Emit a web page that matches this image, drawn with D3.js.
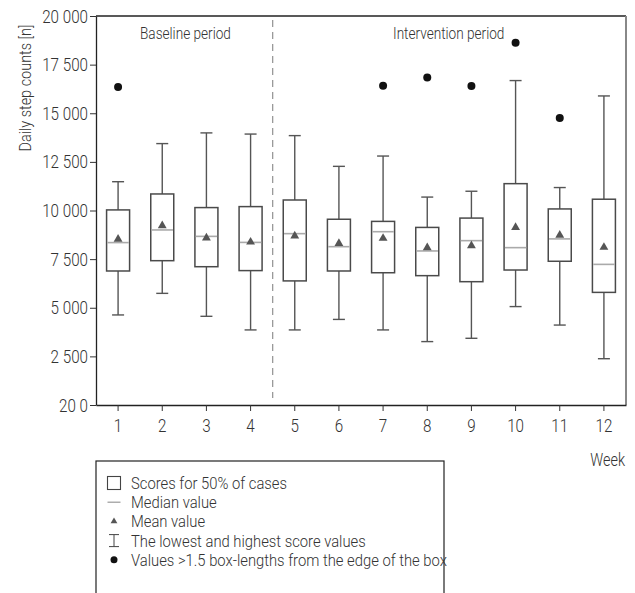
<!DOCTYPE html>
<html>
<head>
<meta charset="utf-8">
<script src="https://cdn.jsdelivr.net/npm/d3@7"></script>
<style>
  html, body { margin: 0; padding: 0; background: #fff; }
  svg { display: block; }
  text { font-family: Roboto, "Noto Sans", sans-serif; font-weight: 300; fill: #333; }
</style>
</head>
<body>
<svg id="chart" width="635" height="593"></svg>
<script>
// ---- data ----
const weeks = ["1","2","3","4","5","6","7","8","9","10","11","12"];
const whiskerLow  = [4630, 5740, 4560, 3860, 3860, 4400, 3860, 3260, 3430, 5060, 4110, 2380];
const q1          = [6890, 7420, 7110, 6910, 6380, 6890, 6800, 6650, 6340, 6940, 7390, 5790];
const medians     = [8350, 9000, 8670, 8360, 8810, 8140, 8910, 7920, 8450, 8090, 8540, 7230];
const means       = [8530, 9220, 8590, 8380, 8690, 8310, 8570, 8090, 8190, 9130, 8730, 8110];
const q3          = [10030, 10850, 10150, 10200, 10540, 9550, 9440, 9130, 9610, 11380, 10080, 10580];
const whiskerHigh = [11480, 13440, 13990, 13930, 13850, 12270, 12800, 10690, 10990, 16680, 11180, 15890];
const outlierWeeks  = ["1", "7", "8", "9", "10", "11"];
const outlierValues = [16350, 16420, 16840, 16400, 18630, 14760];
const yTickValues = [0, 2500, 5000, 7500, 10000, 12500, 15000, 17500, 20000];
const yTickLabels = ["20 0", "2 500", "5 000", "7 500", "10 000", "12 500", "15 000", "17 500", "20 000"];
const legendItems = [
  "Scores for 50% of cases",
  "Median value",
  "Mean value",
  "The lowest and highest score values",
  "Values >1.5 box-lengths from the edge of the box"
];

// condensed look: squeeze glyphs horizontally
function condense(sel, f) {
  sel.each(function () {
    const len = this.getComputedTextLength();
    if (len > 0) {
      d3.select(this).attr("textLength", len * f).attr("lengthAdjust", "spacingAndGlyphs");
    }
  });
}

// ---- layout ----
const svg = d3.select("#chart");
const L = 96, R = 626, T = 16, B = 405;
const x = d3.scaleBand().domain(weeks).range([L, R]).padding(0);
const y = d3.scaleLinear().domain([0, 20000]).range([B, T]);
const boxW = 23, capW = 12;
const boxColor = "#4a4a4a", whiskerColor = "#555", medianColor = "#aaa", meanColor = "#555";
const CF = 0.8;

// frame: top and right border
svg.append("line").attr("x1", L).attr("x2", R).attr("y1", T).attr("y2", T)
  .attr("stroke", "#222").attr("stroke-width", 1.3);
svg.append("line").attr("x1", R).attr("x2", R).attr("y1", T).attr("y2", B)
  .attr("stroke", "#888").attr("stroke-width", 2);

// dashed separator between baseline and intervention
svg.append("line")
  .attr("x1", x("5")).attr("x2", x("5"))
  .attr("y1", T + 4).attr("y2", B - 7)
  .attr("stroke", "#999").attr("stroke-width", 1.3)
  .attr("stroke-dasharray", "7,5");

// period labels
const pl = svg.append("g");
pl.append("text").attr("x", 140).attr("y", 39)
  .attr("font-size", 17).text("Baseline period");
pl.append("text").attr("x", 393).attr("y", 39)
  .attr("font-size", 17).text("Intervention period");
condense(pl.selectAll("text"), CF);

// axes
const yAxis = d3.axisLeft(y).tickValues(yTickValues)
  .tickFormat((d, i) => yTickLabels[i]).tickSize(6).tickPadding(2).tickSizeOuter(0);
const gy = svg.append("g").attr("transform", `translate(${L},0)`).call(yAxis);
gy.selectAll("text").attr("font-size", 19).style("fill", "#333");
gy.attr("font-family", null);
condense(gy.selectAll("text"), CF);
gy.select(".domain").attr("stroke", "#222").attr("stroke-width", 1.3);
gy.selectAll(".tick line").attr("stroke", "#333");

const xAxis = d3.axisBottom(x).tickSize(6).tickPadding(8).tickSizeOuter(0);
const gx = svg.append("g").attr("transform", `translate(0,${B})`).call(xAxis);
gx.selectAll("text").attr("font-size", 19).style("fill", "#333");
gx.attr("font-family", null);
condense(gx.selectAll("text"), CF);
gx.select(".domain").attr("stroke", "#222").attr("stroke-width", 1.3);
gx.selectAll(".tick line").attr("stroke", "#333");

// axis titles
const yt = svg.append("text")
  .attr("transform", `translate(31,88) rotate(-90)`)
  .attr("text-anchor", "middle").attr("font-size", 17)
  .text("Daily step counts [n]");
condense(yt, 0.85);
const wt = svg.append("text").attr("x", 625).attr("y", 466).attr("text-anchor", "end")
  .attr("font-size", 18).text("Week");
condense(wt, CF);

// boxes
const g = svg.append("g");
weeks.forEach((w, i) => {
  const cx = x(w) + x.bandwidth() / 2;
  g.append("line").attr("x1", cx).attr("x2", cx)
    .attr("y1", y(whiskerHigh[i])).attr("y2", y(q3[i]))
    .attr("stroke", whiskerColor).attr("stroke-width", 1.4);
  g.append("line").attr("x1", cx).attr("x2", cx)
    .attr("y1", y(q1[i])).attr("y2", y(whiskerLow[i]))
    .attr("stroke", whiskerColor).attr("stroke-width", 1.4);
  g.append("line").attr("x1", cx - capW / 2).attr("x2", cx + capW / 2)
    .attr("y1", y(whiskerHigh[i])).attr("y2", y(whiskerHigh[i]))
    .attr("stroke", whiskerColor).attr("stroke-width", 1.4);
  g.append("line").attr("x1", cx - capW / 2).attr("x2", cx + capW / 2)
    .attr("y1", y(whiskerLow[i])).attr("y2", y(whiskerLow[i]))
    .attr("stroke", whiskerColor).attr("stroke-width", 1.4);
  g.append("rect").attr("x", cx - boxW / 2).attr("y", y(q3[i]))
    .attr("width", boxW).attr("height", y(q1[i]) - y(q3[i]))
    .attr("fill", "#fff").attr("stroke", boxColor).attr("stroke-width", 1.5);
  g.append("line").attr("x1", cx - boxW / 2 + 0.8).attr("x2", cx + boxW / 2 - 0.8)
    .attr("y1", y(medians[i])).attr("y2", y(medians[i]))
    .attr("stroke", medianColor).attr("stroke-width", 1.6);
  g.append("path").attr("d", d3.symbol(d3.symbolTriangle, 34)())
    .attr("transform", `translate(${cx},${y(means[i])})`)
    .attr("fill", meanColor);
});

// outliers
outlierWeeks.forEach((w, i) => {
  g.append("circle")
    .attr("cx", x(w) + x.bandwidth() / 2).attr("cy", y(outlierValues[i]))
    .attr("r", 4).attr("fill", "#111");
});

// legend
const lg = svg.append("g");
lg.append("rect").attr("x", 96).attr("y", 461).attr("width", 348).attr("height", 160)
  .attr("fill", "none").attr("stroke", "#222").attr("stroke-width", 1.2);
const rowY = i => 483 + i * 19.2;
const sx = 114;
const lt = lg.append("g");
legendItems.forEach((t, i) => {
  lt.append("text").attr("x", 131).attr("y", rowY(i)).attr("dy", "0.35em")
    .attr("font-size", 17).text(t);
});
condense(lt.selectAll("text"), 0.87);
lg.append("rect").attr("x", sx - 6.5).attr("y", rowY(0) - 6.5).attr("width", 13).attr("height", 13)
  .attr("fill", "none").attr("stroke", "#444").attr("stroke-width", 1.1);
lg.append("line").attr("x1", sx - 6.5).attr("x2", sx + 6.5).attr("y1", rowY(1)).attr("y2", rowY(1))
  .attr("stroke", "#999").attr("stroke-width", 1.2);
lg.append("path").attr("d", d3.symbol(d3.symbolTriangle, 20)())
  .attr("transform", `translate(${sx},${rowY(2)})`).attr("fill", "#555");
lg.append("line").attr("x1", sx).attr("x2", sx).attr("y1", rowY(3) - 6).attr("y2", rowY(3) + 6)
  .attr("stroke", "#444").attr("stroke-width", 1);
lg.append("line").attr("x1", sx - 5).attr("x2", sx + 5).attr("y1", rowY(3) - 6).attr("y2", rowY(3) - 6)
  .attr("stroke", "#444").attr("stroke-width", 1);
lg.append("line").attr("x1", sx - 5).attr("x2", sx + 5).attr("y1", rowY(3) + 6).attr("y2", rowY(3) + 6)
  .attr("stroke", "#444").attr("stroke-width", 1);
lg.append("circle").attr("cx", sx).attr("cy", rowY(4)).attr("r", 3.5).attr("fill", "#111");
</script>
</body>
</html>
